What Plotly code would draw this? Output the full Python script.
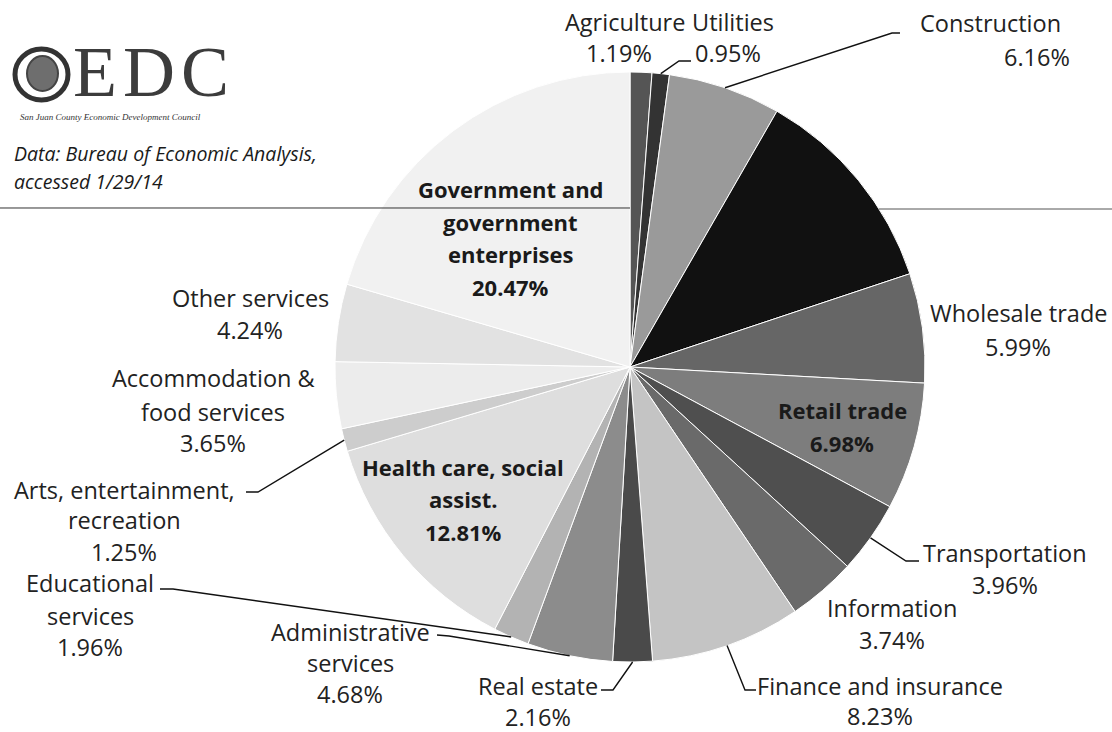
import math
import plotly.graph_objects as go

# ---------------- data ----------------
categories = [
    "Agriculture", "Utilities", "Construction", "(unlabeled)", "Wholesale trade",
    "Retail trade", "Transportation", "Information", "Finance and insurance",
    "Real estate", "Administrative services", "Educational services",
    "Health care, social assist.", "Arts, entertainment, recreation",
    "Accommodation & food services", "Other services",
    "Government and government enterprises",
]
values = [1.19, 0.95, 6.16, 11.58, 5.99, 6.98, 3.96, 3.74, 8.23,
          2.16, 4.68, 1.96, 12.81, 1.25, 3.65, 4.24, 20.47]
colors = ["#555555", "#333333", "#9a9a9a", "#111111", "#666666", "#7d7d7d",
          "#4f4f4f", "#6a6a6a", "#c4c4c4", "#4a4a4a", "#8c8c8c", "#b3b3b3",
          "#dedede", "#cdcdcd", "#ececec", "#e2e2e2", "#f1f1f1"]

pct = {c: f"{v:.2f}%" for c, v in zip(categories, values)}

# ---------------- layout helpers ----------------
W, H = 1112, 732
CX, CY, R = 630, 367, 295
FONT = "Open Sans"


def px(x):
    return x / W


def py(y):
    return 1 - y / H


def edge(cat):
    i = categories.index(cat)
    total = sum(values)
    cum = sum(values[:i]) + values[i] / 2
    a = 2 * math.pi * cum / total
    return CX + R * math.sin(a), CY - R * math.cos(a)


fig = go.Figure(go.Pie(
    labels=categories, values=values, sort=False, direction="clockwise",
    rotation=0, textinfo="none", hoverinfo="label+percent",
    marker=dict(colors=colors, line=dict(color="white", width=1)),
    domain=dict(x=[(CX - R) / W, (CX + R) / W], y=[py(CY + R), py(CY - R)]),
    showlegend=False,
))

annotations = []


def txt(s, x, y, size=23, bold=False, color="#222222", anchor="center",
        family=FONT, italic=False):
    if bold:
        s = f"<b>{s}</b>"
    if italic:
        s = f"<i>{s}</i>"
    annotations.append(dict(text=s, x=px(x), y=py(y), xref="paper", yref="paper",
                            xanchor=anchor, yanchor="middle", showarrow=False,
                            font=dict(family=family, size=size, color=color)))


# slice labels: (lines, centre x, list of y)
labels = [
    (["Agriculture"], 625, [22]),
    (["Utilities"], 733, [22]),
    ([pct["Agriculture"]], 619, [53]),
    ([pct["Utilities"]], 728, [53]),
    (["Construction"], 990, [23]),
    ([pct["Construction"]], 1037, [57]),
    (["Wholesale trade", pct["Wholesale trade"]], 1018, [313, 347]),
    (["Transportation", pct["Transportation"]], 1005, [553, 585]),
    (["Information", pct["Information"]], 892, [608, 640]),
    (["Finance and insurance", pct["Finance and insurance"]], 880, [686, 716]),
    (["Real estate", pct["Real estate"]], 538, [686, 717]),
    (["Administrative", "services", pct["Administrative services"]], 350, [632, 663, 694]),
    (["Educational", "services", pct["Educational services"]], 90, [583, 616, 647]),
    (["Arts, entertainment,", "recreation", pct["Arts, entertainment, recreation"]], 124, [490, 520, 552]),
    (["Accommodation &", "food services", pct["Accommodation & food services"]], 213, [378, 412, 443]),
    (["Other services", pct["Other services"]], 250, [298, 330]),
]
for lines, x, ys in labels:
    for s, y in zip(lines, ys):
        txt(s, x, y, size=23.5)

bold_labels = [
    (["Government and", "government", "enterprises",
      pct["Government and government enterprises"]], 511, [189, 222, 254, 287]),
    (["Health care, social", "assist.", pct["Health care, social assist."]], 463, [467, 499, 532]),
    (["Retail trade", pct["Retail trade"]], 842, [410, 443]),
]
for lines, x, ys in bold_labels:
    for s, y in zip(lines, ys):
        txt(s, x, y, size=22, bold=True, color="#1a1a1a")

# source note and logo
txt("Data: Bureau of Economic Analysis,", 12, 153, size=19.5, italic=True,
    anchor="left", color="#1a1a1a")
txt("accessed 1/29/14", 12, 181, size=19.5, italic=True, anchor="left", color="#1a1a1a")
txt("E\u200aD\u200aC", 71, 72, size=72, anchor="left", family="Liberation Serif",
    color="#3c3c3c")
txt("San Juan County Economic Development Council", 18, 117, size=9,
    anchor="left", family="Liberation Serif", italic=True, color="#333333")

shapes = []


def path(points, color="#111111", width=1.4):
    d = "M " + " L ".join(f"{px(x):.5f},{py(y):.5f}" for x, y in points)
    shapes.append(dict(type="path", path=d, xref="paper", yref="paper",
                       line=dict(color=color, width=width)))


# leader lines: start near label, elbow, end at slice edge
leaders = [
    ("Utilities", (691, 61), (679, 61)),
    ("Construction", (900, 33), (892, 33)),
    ("Transportation", (919, 561), (906, 561)),
    ("Finance and insurance", (756, 690), (745, 690)),
    ("Real estate", (601, 690), (613, 690)),
    ("Administrative services", (437, 635), (449, 636)),
    ("Educational services", (160, 589), (173, 589)),
    ("Arts, entertainment, recreation", (246, 492), (258, 492)),
]
for cat, p0, p1 in leaders:
    path([p0, p1, edge(cat)])

# scan line across the page
LY = 208
path([(0, LY), (CX, LY)], color="#333333", width=1)
rx = CX + math.sqrt(R ** 2 - (CY - LY) ** 2)
path([(rx, LY + 1), (W, LY + 1)], color="#555555", width=1)

# logo swirl
shapes.append(dict(type="circle", xref="paper", yref="paper",
                   x0=px(15), x1=px(68), y0=py(100), y1=py(49),
                   line=dict(color="#333333", width=5), fillcolor="white"))
shapes.append(dict(type="circle", xref="paper", yref="paper",
                   x0=px(27), x1=px(58), y0=py(91), y1=py(56),
                   line=dict(color="#444444", width=2), fillcolor="#6e6e6e"))

fig.update_layout(
    width=W, height=H, margin=dict(l=0, r=0, t=0, b=0),
    paper_bgcolor="white", plot_bgcolor="white",
    annotations=annotations, shapes=shapes,
)

fig.write_html("out.html")
